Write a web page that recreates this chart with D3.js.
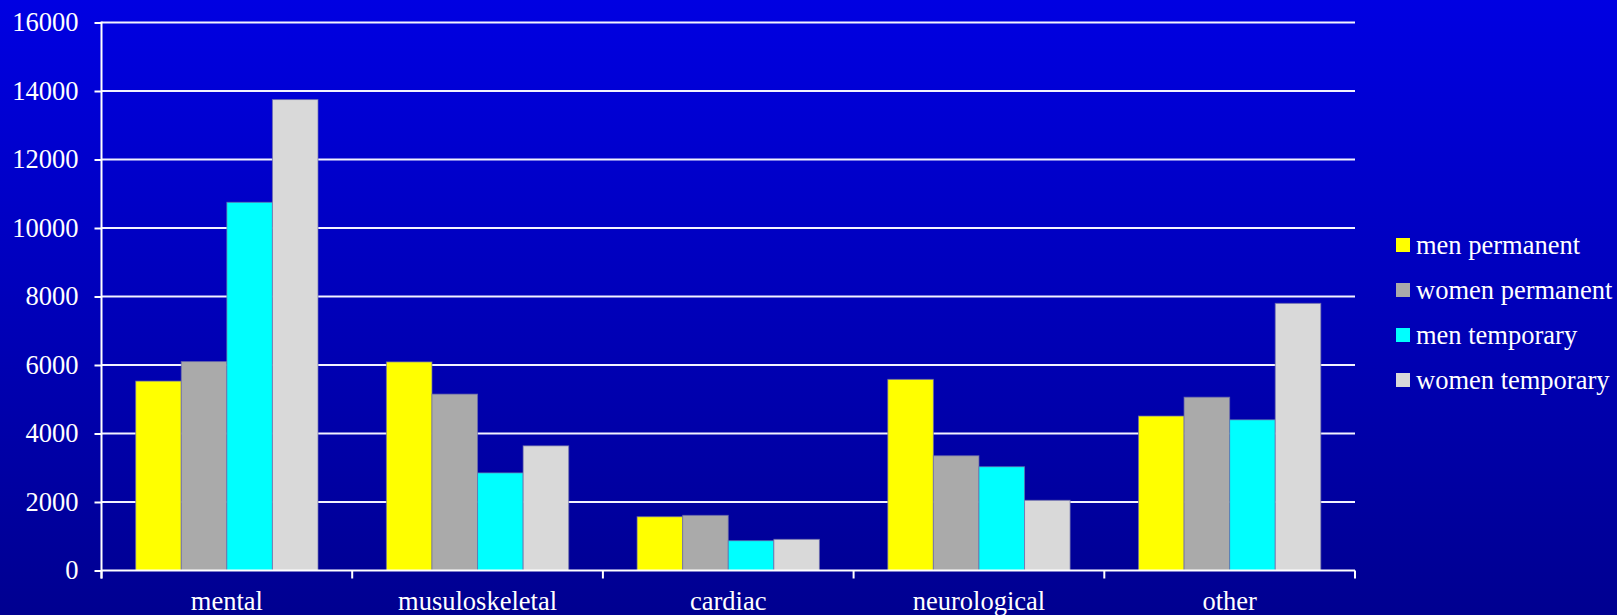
<!DOCTYPE html>
<html>
<head>
<meta charset="utf-8">
<script src="https://cdn.jsdelivr.net/npm/d3@7"></script>
<style>
  html, body { margin: 0; padding: 0; background: #0000b8; }
  svg { display: block; }
</style>
</head>
<body>
<svg id="chart" width="1617" height="615"></svg>
<script>
// Cases by diagnosis group, split by sex and type of disability
const categories = ["mental", "musuloskeletal", "cardiac", "neurological", "other"];
const seriesNames = ["men permanent", "women permanent", "men temporary", "women temporary"];
const menPermanent   = [5530, 6090, 1570, 5580, 4510];
const womenPermanent = [6100, 5150, 1610, 3350, 5060];
const menTemporary   = [10750, 2850, 870, 3030, 4400];
const womenTemporary = [13750, 3640, 910, 2050, 7800];
const yTicks = [0, 2000, 4000, 6000, 8000, 10000, 12000, 14000, 16000];
const seriesColors = ["#ffff00", "#aaaaaa", "#00ffff", "#d9d9d9"];

const seriesValues = [menPermanent, womenPermanent, menTemporary, womenTemporary];

const W = 1617, H = 615;
const plot = { left: 101.5, right: 1355, top: 22.5, bottom: 570.5 };
const font = "'Liberation Serif', 'Times New Roman', serif";
const fontSize = 26.5;

const svg = d3.select("#chart");

// Background: vertical blue gradient
const defs = svg.append("defs");
const grad = defs.append("linearGradient")
  .attr("id", "bg").attr("x1", 0).attr("y1", 0).attr("x2", 0).attr("y2", 1);
grad.append("stop").attr("offset", "0%").attr("stop-color", "rgb(0,0,226)");
grad.append("stop").attr("offset", "100%").attr("stop-color", "rgb(0,0,144)");
svg.append("rect").attr("width", W).attr("height", H).attr("fill", "url(#bg)");

// Scales
const x = d3.scaleBand().domain(categories).range([plot.left, plot.right]).padding(0);
const xs = d3.scaleBand().domain(seriesNames).range([0, x.bandwidth()])
  .paddingInner(0).paddingOuter(0.75);
const y = d3.scaleLinear().domain([0, 16000]).range([plot.bottom, plot.top]);

// Horizontal gridlines
svg.append("g").selectAll("line").data(yTicks.filter(t => t > 0)).join("line")
  .attr("x1", plot.left).attr("x2", plot.right)
  .attr("y1", d => y(d)).attr("y2", d => y(d))
  .attr("stroke", "#f2f2ff").attr("stroke-width", 2);

// Bars
const rows = categories.map((c, i) => ({
  cat: c,
  vals: seriesNames.map((s, j) => ({ s, j, v: seriesValues[j][i] }))
}));
svg.append("g").selectAll("g").data(rows).join("g")
  .attr("transform", d => `translate(${x(d.cat)},0)`)
  .selectAll("rect").data(d => d.vals).join("rect")
  .attr("x", d => xs(d.s))
  .attr("y", d => y(d.v))
  .attr("width", xs.bandwidth())
  .attr("height", d => y(0) - y(d.v))
  .attr("fill", d => seriesColors[d.j])
  .attr("stroke", "rgba(110,110,170,0.7)")
  .attr("stroke-width", 1);

// Y axis
const yAxis = svg.append("g")
  .attr("transform", `translate(${plot.left},0)`)
  .call(d3.axisLeft(y).tickValues(yTicks).tickFormat(d3.format("d"))
    .tickSize(7).tickPadding(16).tickSizeOuter(0));
yAxis.select(".domain").remove();
yAxis.selectAll(".tick line").attr("stroke", "#ffffff").attr("stroke-width", 2);
yAxis.selectAll(".tick text")
  .attr("fill", "#ffffff").attr("font-family", font).attr("font-size", fontSize);
svg.append("line")
  .attr("x1", plot.left).attr("x2", plot.left)
  .attr("y1", plot.top - 1).attr("y2", plot.bottom + 8)
  .attr("stroke", "#ffffff").attr("stroke-width", 2);

// X axis: labels centred in each band, ticks at band boundaries
const xAxis = svg.append("g")
  .attr("transform", `translate(0,${plot.bottom})`)
  .call(d3.axisBottom(x).tickSize(0).tickSizeOuter(0));
xAxis.select(".domain").remove();
xAxis.selectAll(".tick text")
  .attr("fill", "#ffffff").attr("font-family", font).attr("font-size", fontSize)
  .attr("y", 39.5).attr("dy", null);
svg.append("line")
  .attr("x1", plot.left).attr("x2", plot.right)
  .attr("y1", plot.bottom).attr("y2", plot.bottom)
  .attr("stroke", "#ffffff").attr("stroke-width", 2);
const boundaries = categories.map(c => x(c)).concat([x(categories[categories.length - 1]) + x.bandwidth()]);
svg.append("g").selectAll("line").data(boundaries).join("line")
  .attr("x1", d => d).attr("x2", d => d)
  .attr("y1", plot.bottom).attr("y2", plot.bottom + 8)
  .attr("stroke", "#ffffff").attr("stroke-width", 2);

// Legend
const legend = svg.append("g").attr("transform", "translate(1396,238)");
const items = legend.selectAll("g").data(seriesNames).join("g")
  .attr("transform", (d, i) => `translate(0,${i * 45})`);
items.append("rect").attr("width", 14).attr("height", 14)
  .attr("fill", (d, i) => seriesColors[i]);
items.append("text").attr("x", 20).attr("y", 15.5)
  .attr("fill", "#ffffff").attr("font-family", font).attr("font-size", fontSize)
  .text(d => d);
</script>
</body>
</html>
